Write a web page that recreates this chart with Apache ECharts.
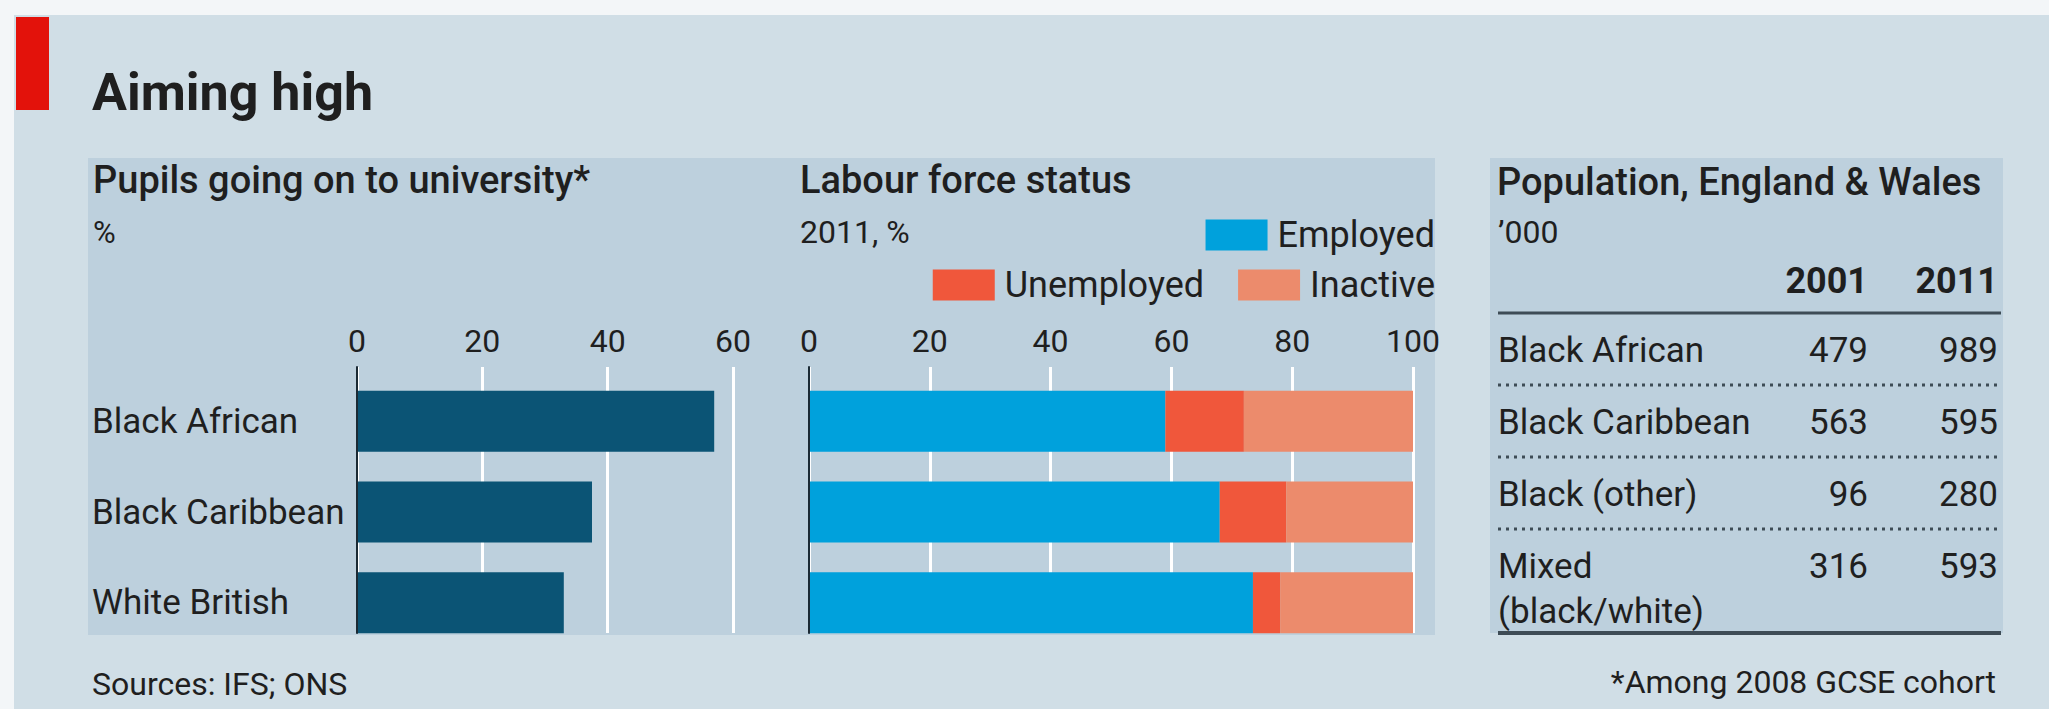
<!DOCTYPE html>
<html>
<head>
<meta charset="utf-8">
<title>Aiming high</title>
<style>
  html, body { margin: 0; padding: 0; background: #d0dee6; }
  #chart { width: 2049px; height: 709px; }
</style>
<script src="https://cdn.jsdelivr.net/npm/echarts@6/dist/echarts.min.js"></script>
</head>
<body>
<div id="chart"></div>
<script>
// Pupils going on to university, % of the 2008 GCSE cohort
const groups = ['Black African', 'Black Caribbean', 'White British'];
const universityPct = [57, 37.5, 33];
const uniTicks = [0, 20, 40, 60];

// Labour force status, 2011, %
const statusNames = ['Employed', 'Unemployed', 'Inactive'];
const employed = [59, 68, 73.5];
const unemployed = [13, 11, 4.5];
const inactive = [28, 21, 22];
const labourTicks = [0, 20, 40, 60, 80, 100];

// Population, England & Wales, '000
const popGroups = ['Black African', 'Black Caribbean', 'Black (other)', 'Mixed\n(black/white)'];
const popYears = ['2001', '2011'];
const pop2001 = [479, 563, 96, 316];
const pop2011 = [989, 595, 280, 593];

// ---- styling ----
const FONT = 'Roboto, "Open Sans", "DejaVu Sans", sans-serif';
const INK = '#1f1f1f';
const PANEL = '#bdd0dd';
const GRID_LINE = '#ffffff';
const AXIS_DARK = '#1b2a34';
const C_UNI = '#0b5475';
const C_STATUS = ['#00a1dc', '#f0573b', '#ec8b6c'];

// ---- geometry ----
const ROW_TOP = 367, ROW_H = 266;     // span of the gridlines
const BAR_TOP = 376, BAR_H = 272;     // three category bands for the bars
const BAR_W = 61;
const uniLeft = 357, uniWidth = 376;
const labLeft = 809, labWidth = 604;

function range(ticks) {
  return { min: ticks[0], max: ticks[ticks.length - 1], interval: ticks[1] - ticks[0] };
}

function valueAxis(gridIndex, ticks, visible) {
  const base = Object.assign({ type: 'value', gridIndex: gridIndex }, range(ticks));
  if (!visible) return Object.assign(base, { show: false, splitLine: { show: false } });
  return Object.assign(base, {
    position: 'top',
    axisLine: { show: false },
    axisTick: { show: false },
    axisLabel: { fontSize: 32, color: INK, fontFamily: FONT, margin: 10 },
    splitLine: { show: true, lineStyle: { color: GRID_LINE, width: 3 } }
  });
}

function categoryAxis(gridIndex, withLine, withLabels) {
  return {
    type: 'category', gridIndex: gridIndex, data: groups, inverse: true,
    z: withLine ? 3 : 0,
    axisLine: { show: withLine, lineStyle: { color: AXIS_DARK, width: 2 } },
    axisTick: { show: false },
    splitLine: { show: false },
    axisLabel: withLabels
      ? { show: true, align: 'left', margin: uniLeft - 92, fontSize: 35, color: INK, fontFamily: FONT }
      : { show: false }
  };
}

// Text placed by its alphabetic baseline
function text(x, baseline, str, size, opts) {
  opts = opts || {};
  return {
    type: 'text', silent: true, z: 5,
    style: {
      x: x, y: baseline - size * 0.34,
      text: str,
      fontSize: size, fontFamily: FONT, fontWeight: opts.weight || 'normal',
      fill: opts.fill || INK,
      align: opts.align || 'left',
      verticalAlign: 'middle'
    }
  };
}

function rect(x, y, w, h, fill, z) {
  return { type: 'rect', silent: true, z: z, shape: { x: x, y: y, width: w, height: h }, style: { fill: fill } };
}

function hline(x1, x2, y, width, dash) {
  return {
    type: 'line', silent: true, z: 4,
    shape: { x1: x1, y1: y, x2: x2, y2: y },
    style: { stroke: '#3e4c56', lineWidth: width, lineDash: dash || null }
  };
}

// ---- population table ----
const TABLE_X = 1498, TABLE_R = 2001;
const COL_2001 = 1868, COL_2011 = 1998;
const TABLE_FS = 35;
const tableEls = [];
tableEls.push(text(COL_2001, 293, popYears[0], 36, { weight: 'bold', align: 'right' }));
tableEls.push(text(COL_2011, 293, popYears[1], 36, { weight: 'bold', align: 'right' }));
tableEls.push(hline(TABLE_X, TABLE_R, 313, 3));
popGroups.forEach(function (name, i) {
  const base = 362 + i * 72;
  name.split('\n').forEach(function (line, k) {
    tableEls.push(text(TABLE_X, base + k * 45, line, TABLE_FS));
  });
  tableEls.push(text(COL_2001, base, String(pop2001[i]), TABLE_FS, { align: 'right' }));
  tableEls.push(text(COL_2011, base, String(pop2011[i]), TABLE_FS, { align: 'right' }));
  if (i < popGroups.length - 1) tableEls.push(hline(TABLE_X, TABLE_R, base + 23, 3, [3, 5]));
});
tableEls.push(hline(TABLE_X, TABLE_R, 633, 4));

const graphics = [
  rect(0, 0, 2049, 15, '#f3f6f8', -20),
  rect(0, 0, 14, 709, '#f3f6f8', -20),
  rect(88, 158, 1347, 477, PANEL, -10),
  rect(1490, 158, 513, 475, PANEL, -10),
  rect(16, 17, 33, 93, '#e3120b', 5),
  text(92, 110, 'Aiming high', 52, { weight: 'bold' }),
  text(93, 193, 'Pupils going on to university*', 38, { weight: 500 }),
  text(93, 243, '%', 31),
  text(800, 193, 'Labour force status', 38, { weight: 500 }),
  text(800, 243, '2011, %', 32),
  text(1497, 195, 'Population, England & Wales', 38, { weight: 500 }),
  text(1498, 243, '\u2019000', 32),
  text(92, 695, 'Sources: IFS; ONS', 32),
  text(1996, 693, '*Among 2008 GCSE cohort', 32, { align: 'right' })
].concat(tableEls);

const legendBase = {
  orient: 'horizontal', right: 2049 - 1435, padding: 0,
  icon: 'rect', itemWidth: 62, itemHeight: 31, itemGap: 34,
  selectedMode: false,
  textStyle: { fontSize: 36, color: INK, fontFamily: FONT, lineHeight: 31, padding: [0, 0, 0, 5] }
};

const option = {
  animation: false,
  backgroundColor: '#d0dee6',
  textStyle: { fontFamily: FONT },
  legend: [
    Object.assign({}, legendBase, { top: 217, data: [statusNames[0]] }),
    Object.assign({}, legendBase, { top: 267, data: [statusNames[1], statusNames[2]] })
  ],
  grid: [
    { left: uniLeft, top: ROW_TOP, width: uniWidth, height: ROW_H, outerBoundsMode: 'none' },
    { left: uniLeft, top: BAR_TOP, width: uniWidth, height: BAR_H, outerBoundsMode: 'none' },
    { left: labLeft, top: ROW_TOP, width: labWidth, height: ROW_H, outerBoundsMode: 'none' },
    { left: labLeft, top: BAR_TOP, width: labWidth, height: BAR_H, outerBoundsMode: 'none' }
  ],
  xAxis: [
    valueAxis(0, uniTicks, true),
    valueAxis(1, uniTicks, false),
    valueAxis(2, labourTicks, true),
    valueAxis(3, labourTicks, false)
  ],
  yAxis: [
    categoryAxis(0, true, false),
    categoryAxis(1, false, true),
    categoryAxis(2, true, false),
    categoryAxis(3, false, false)
  ],
  series: [
    {
      name: 'University', type: 'bar', xAxisIndex: 1, yAxisIndex: 1,
      data: universityPct, barWidth: BAR_W, itemStyle: { color: C_UNI }, silent: true
    }
  ].concat([employed, unemployed, inactive].map(function (vals, i) {
    return {
      name: statusNames[i], type: 'bar', stack: 'status', xAxisIndex: 3, yAxisIndex: 3,
      data: vals, barWidth: BAR_W, itemStyle: { color: C_STATUS[i] }, silent: true
    };
  })),
  graphic: { elements: graphics }
};

const chart = echarts.init(document.getElementById('chart'), null, { renderer: 'svg', width: 2049, height: 709 });
chart.setOption(option);
</script>
</body>
</html>
